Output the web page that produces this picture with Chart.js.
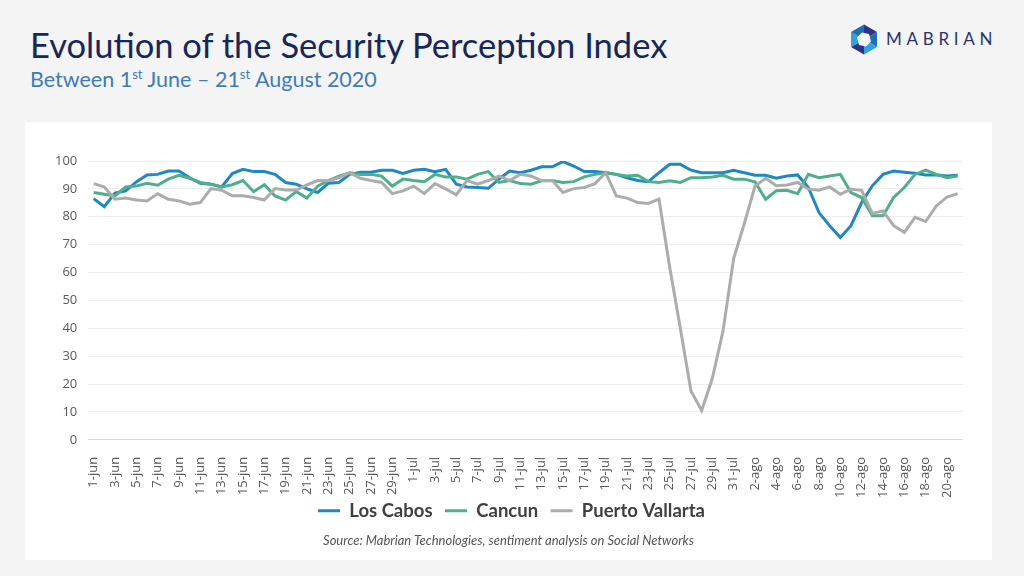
<!DOCTYPE html>
<html>
<head>
<meta charset="utf-8">
<script src="https://cdn.jsdelivr.net/npm/chart.js@4/dist/chart.umd.min.js"></script>
<style>
    html, body { margin: 0; padding: 0; }
    body { width: 1024px; height: 576px; background: #f4f4f4; position: relative; overflow: hidden; font-family: Lato, sans-serif; }
    #title { position: absolute; left: 30px; top: 24px; font-size: 34.5px; color: #14285c; white-space: nowrap; }
    #subtitle { position: absolute; left: 30px; top: 66px; font-size: 21.5px; color: #3d7cbd; white-space: nowrap; }
    #subtitle sup { font-size: 13px; vertical-align: 8px; line-height: 0; }
    #logo { position: absolute; left: 849px; top: 24px; }
    #brand { position: absolute; left: 886px; top: 28px; font-size: 17px; letter-spacing: 4.7px; color: #2a3270; }
    #panel { position: absolute; left: 25px; top: 122px; width: 967px; height: 438px; background: #fff; }
    #chartBox { position: absolute; left: 0; top: 0; width: 967px; height: 426px; }
    #source { position: absolute; left: 0; width: 967px; top: 410px; text-align: center; font-style: italic; font-size: 13px; color: #555; }
</style>
</head>
<body>
<div id="title">Evolution of the Security Perception Index</div>
<div id="subtitle">Between 1<sup>st</sup> June – 21<sup>st</sup> August 2020</div>
<svg id="logo" width="30" height="31" viewBox="-15 -15.5 30 31">
    <polygon points="0,-15 13,-7.5 0,0" fill="#2b3486"/>
    <polygon points="13,-7.5 13,7.5 0,0" fill="#1e6fb8"/>
    <polygon points="13,7.5 0,15 0,0" fill="#2aa3df"/>
    <polygon points="0,15 -13,7.5 0,0" fill="#2b3486"/>
    <polygon points="-13,7.5 -13,-7.5 0,0" fill="#2aa3df"/>
    <polygon points="-13,-7.5 0,-15 0,0" fill="#1e6fb8"/>
    <polygon points="-7,-2 -2,-7 5,-5.5 7,2 2,7 -5,5.5" fill="#f4f4f4"/>
</svg>
<div id="brand">MABRIAN</div>
<div id="panel">
    <div id="chartBox"><canvas id="spiChart"></canvas></div>
    <div id="source">Source: Mabrian Technologies, sentiment analysis on Social Networks</div>
</div>
<script>
const days = [
    '1-jun', '2-jun', '3-jun', '4-jun', '5-jun', '6-jun', '7-jun', '8-jun', '9-jun', '10-jun',
    '11-jun', '12-jun', '13-jun', '14-jun', '15-jun', '16-jun', '17-jun', '18-jun', '19-jun', '20-jun',
    '21-jun', '22-jun', '23-jun', '24-jun', '25-jun', '26-jun', '27-jun', '28-jun', '29-jun', '30-jun',
    '1-jul', '2-jul', '3-jul', '4-jul', '5-jul', '6-jul', '7-jul', '8-jul', '9-jul', '10-jul',
    '11-jul', '12-jul', '13-jul', '14-jul', '15-jul', '16-jul', '17-jul', '18-jul', '19-jul', '20-jul',
    '21-jul', '22-jul', '23-jul', '24-jul', '25-jul', '26-jul', '27-jul', '28-jul', '29-jul', '30-jul', '31-jul',
    '1-ago', '2-ago', '3-ago', '4-ago', '5-ago', '6-ago', '7-ago', '8-ago', '9-ago', '10-ago',
    '11-ago', '12-ago', '13-ago', '14-ago', '15-ago', '16-ago', '17-ago', '18-ago', '19-ago', '20-ago', '21-ago'
];

const losCabos = [
    86.5, 83.6, 88.5, 89.3, 92.5, 95.0, 95.2, 96.4, 96.4, 94.0,
    92.0, 91.7, 90.7, 95.5, 97.0, 96.2, 96.2, 95.2, 92.3, 91.7,
    90.0, 88.7, 92.0, 92.3, 95.2, 96.0, 96.0, 96.7, 96.7, 95.5,
    96.7, 97.0, 96.2, 97.0, 91.7, 90.7, 90.5, 90.2, 93.5, 96.4,
    95.8, 96.7, 97.9, 97.9, 99.8, 98.2, 96.2, 96.2, 95.8, 95.2,
    94.0, 93.0, 92.6, 95.8, 98.8, 98.8, 96.7, 95.8, 95.8, 95.8, 96.7,
    95.8, 94.9, 94.9, 93.8, 94.6, 95.0, 90.5, 81.5, 76.8, 72.6,
    76.8, 85.1, 91.1, 95.2, 96.4, 96.0, 95.6, 95.0, 95.0, 94.6, 94.9
];

const cancun = [
    88.7, 88.1, 87.5, 90.7, 91.0, 92.0, 91.3, 93.5, 94.9, 93.8,
    92.3, 91.7, 90.7, 91.5, 93.0, 89.0, 91.5, 87.5, 86.0, 89.0,
    86.7, 91.0, 93.0, 94.6, 95.8, 95.2, 95.2, 94.6, 91.0, 93.5,
    93.0, 92.6, 95.2, 94.3, 94.3, 93.5, 95.2, 96.2, 92.3, 93.0,
    91.9, 91.7, 92.9, 93.0, 92.3, 92.6, 94.3, 95.2, 95.8, 95.2,
    94.6, 94.9, 92.6, 92.3, 92.9, 92.3, 94.0, 94.0, 94.3, 94.9, 93.5,
    93.5, 92.5, 86.3, 89.3, 89.5, 88.3, 95.2, 94.0, 94.6, 95.2,
    88.7, 86.9, 80.4, 80.4, 86.9, 90.5, 95.2, 96.7, 95.2, 94.0, 94.6
];

const puertoVallarta = [
    91.9, 90.7, 86.3, 86.7, 86.0, 85.7, 88.3, 86.3, 85.7, 84.5,
    85.1, 90.1, 89.5, 87.5, 87.5, 86.9, 86.0, 90.1, 89.6, 89.6,
    91.4, 93.0, 92.9, 94.0, 95.8, 93.8, 93.0, 92.3, 88.3, 89.3,
    91.0, 88.3, 91.9, 90.0, 87.9, 93.0, 91.7, 93.0, 94.6, 93.0,
    95.2, 94.6, 93.0, 93.0, 88.7, 90.1, 90.5, 91.9, 95.8, 87.5,
    86.7, 85.1, 84.8, 86.3, 62.0, 40.0, 17.5, 10.5, 22.0, 39.0, 65.0,
    77.6, 91.0, 93.8, 91.1, 91.4, 92.3, 89.9, 89.5, 90.7, 88.1,
    89.9, 89.5, 81.2, 82.1, 76.8, 74.4, 79.8, 78.3, 83.9, 87.1, 88.3
];

const yTicks = { min: 0, max: 100, step: 10 };

const lineSet = (label, data, color, order) => ({
    label: label,
    data: data,
    borderColor: color,
    backgroundColor: color,
    borderWidth: 3,
    pointRadius: 0,
    tension: 0,
    order: order
});

// pull the legend up against the rotated date labels, and a bit right, like the original slide
const legendNudge = {
    id: 'legendNudge',
    afterLayout(chart) {
        const lg = chart.legend;
        if (!lg) return;
        lg.top -= 18; lg.bottom -= 18;
        lg.left += 8; lg.right += 8;
    }
};

new Chart(document.getElementById('spiChart'), {
    type: 'line',
    data: {
        labels: days,
        datasets: [
            lineSet('Los Cabos', losCabos, '#1e88c4', 3),
            lineSet('Cancun', cancun, '#4eb088', 2),
            lineSet('Puerto Vallarta', puertoVallarta, '#acacac', 1)
        ]
    },
    plugins: [legendNudge],
    options: {
        responsive: true,
        maintainAspectRatio: false,
        animation: false,
        layout: { padding: { top: 39, left: 19, right: 29, bottom: 0 } },
        plugins: {
            tooltip: { enabled: false },
            legend: {
                position: 'bottom',
                labels: {
                    usePointStyle: true,
                    pointStyle: 'line',
                    pointStyleWidth: 22,
                    boxWidth: 22,
                    boxHeight: 3,
                    padding: 12.5,
                    color: '#404040',
                    font: { family: 'Lato', size: 18.5, weight: 'bold' },
                    sort: (a, b) => a.datasetIndex - b.datasetIndex
                }
            }
        },
        scales: {
            x: {
                offset: true,
                grid: { display: false },
                border: { display: false },
                ticks: {
                    autoSkip: false,
                    maxRotation: 90,
                    minRotation: 90,
                    padding: 9,
                    color: '#595959',
                    font: { family: 'Open Sans', size: 13 },
                    callback: function (value, index) {
                        return index % 2 === 0 ? this.getLabelForValue(value) : '';
                    }
                }
            },
            y: {
                min: yTicks.min,
                max: yTicks.max,
                border: { display: false },
                grid: {
                    drawTicks: false,
                    color: (ctx) => ctx.tick && ctx.tick.value === 0 ? '#d9d9d9' : '#ececec'
                },
                ticks: {
                    stepSize: yTicks.step,
                    padding: 11,
                    color: '#595959',
                    font: { family: 'Open Sans', size: 13 }
                }
            }
        }
    }
});
</script>
</body>
</html>
